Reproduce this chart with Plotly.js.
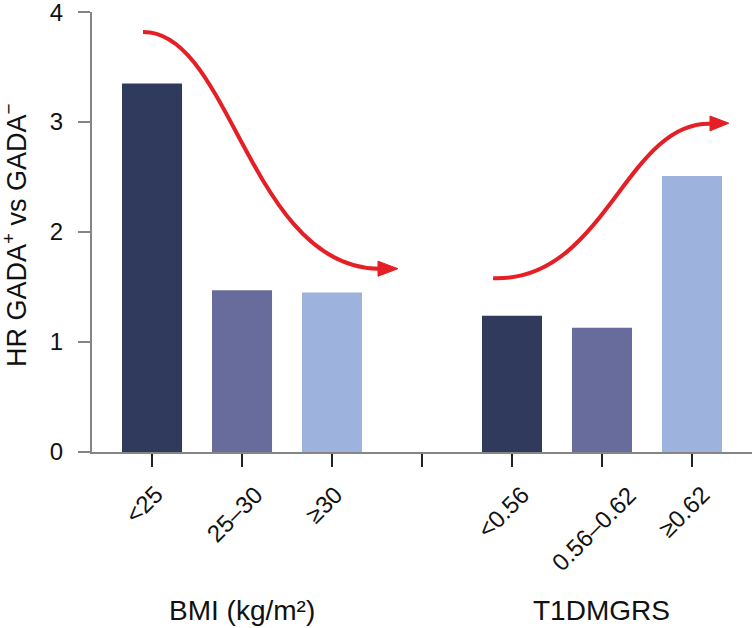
<!DOCTYPE html>
<html>
<head>
<meta charset="utf-8">
<script src="https://cdn.plot.ly/plotly-3.0.1.min.js"></script>
<style>
  html, body { margin: 0; padding: 0; background: #fff; }
  #myChart { width: 752px; height: 628px; }
</style>
</head>
<body>
<div id="myChart"></div>
<script>
// HR of GADA+ vs GADA- by BMI class and by T1D genetic risk score
const categories = ["<25", "25–30", "≥30", " ", "<0.56", "0.56–0.62", "≥0.62"];
const barLabels = ["<25", "25–30", "≥30", "<0.56", "0.56–0.62", "≥0.62"];
const hrValues = [3.35, 1.47, 1.45, 1.24, 1.13, 2.51];
const barColors = ["#2f3a5c", "#676c9d", "#9db2dc", "#2f3a5c", "#676c9d", "#9db2dc"];
const yTicks = [0, 1, 2, 3, 4];
const yTitle = "HR GADA<sup>+</sup> vs GADA<sup>−</sup>";
const groupLabels = ["BMI (kg/m²)", "T1DMGRS"];
const groupCenters = ["25–30", "0.56–0.62"];

// trend arrows (curve + head), axis units
const arrowDown = { start: [-0.1, 3.82], c1: [0.867, 3.83], c2: [1.089, 1.69], end: [2.511, 1.666],
                    head: [[2.733, 1.667], [2.511, 1.735], [2.511, 1.598]] };
const arrowUp = { start: [3.79, 1.58], c1: [5.033, 1.545], c2: [5.256, 2.998], end: [6.2, 2.985],
                  head: [[6.41, 2.99], [6.2, 3.055], [6.2, 2.92]] };

const FONT = "Liberation Sans, Arial, Helvetica, sans-serif";
const RED = "#e41f26";

const curvePath = (a) =>
  "M " + a.start.join(",") + " C " + a.c1.join(",") + " " + a.c2.join(",") + " " + a.end.join(",");
const headPath = (a) =>
  "M " + a.head[0].join(",") + " L " + a.head[1].join(",") + " L " + a.head[2].join(",") + " Z";

var trace1 = {
  x: barLabels,
  y: hrValues,
  type: "bar",
  width: 0.667,
  marker: { color: barColors, line: { width: 0 } },
  hoverinfo: "x+y",
};

var shapes = [];
[arrowDown, arrowUp].forEach((a) => {
  shapes.push({ type: "path", xref: "x", yref: "y", path: curvePath(a),
                line: { color: RED, width: 4 } });
  shapes.push({ type: "path", xref: "x", yref: "y", path: headPath(a),
                fillcolor: RED, line: { color: RED, width: 1 } });
});

// slanted category labels: centred under each tick, hanging from the same top line
var annotations = barLabels.map((t) => ({
  text: t,
  x: t,
  xref: "x",
  xshift: -8,
  y: 0,
  yref: "paper",
  yanchor: "top",
  yshift: -26,
  textangle: -45,
  showarrow: false,
  font: { family: FONT, size: 24, color: "#111" },
}));

groupLabels.forEach((t, i) => {
  annotations.push({
    text: t,
    x: groupCenters[i],
    xref: "x",
    y: -0.361,
    yref: "paper",
    yanchor: "middle",
    showarrow: false,
    font: { family: FONT, size: 28, color: "#111" },
  });
});

// y title sits closer to the page edge than plotly's own title allows
annotations.push({
  text: yTitle,
  x: 0,
  xref: "paper",
  xanchor: "center",
  xshift: -77,
  y: 0.5,
  yref: "paper",
  yanchor: "middle",
  yshift: -3,
  textangle: -90,
  showarrow: false,
  font: { family: FONT, size: 27, color: "#111" },
});

var layout = {
  width: 752,
  height: 628,
  margin: { l: 92, r: 0, t: 12, b: 176 },
  paper_bgcolor: "#fff",
  plot_bgcolor: "#fff",
  showlegend: false,
  font: { family: FONT, color: "#111" },
  xaxis: {
    type: "category",
    categoryorder: "array",
    categoryarray: categories,
    range: [-0.667, 6.667],
    tickvals: categories,
    showticklabels: false,
    ticks: "outside",
    ticklen: 13,
    tickwidth: 1.5,
    tickcolor: "#222",
    showline: true,
    linecolor: "#858585",
    linewidth: 2,
    showgrid: false,
    zeroline: false,
    fixedrange: true,
  },
  yaxis: {
    range: [0, 4.001],
    tickvals: yTicks,
    ticktext: yTicks.map(String),
    ticks: "outside",
    ticklen: 12,
    tickwidth: 1.5,
    tickcolor: "#858585",
    ticklabelstandoff: 10,
    ticklabeloverflow: "allow",
    tickfont: { family: FONT, size: 24, color: "#111" },
    showline: true,
    linecolor: "#858585",
    linewidth: 2,
    showgrid: false,
    zeroline: false,
    fixedrange: true,
  },
  shapes: shapes,
  annotations: annotations,
};

Plotly.newPlot("myChart", [trace1], layout, { displayModeBar: false, staticPlot: true });
</script>
</body>
</html>
